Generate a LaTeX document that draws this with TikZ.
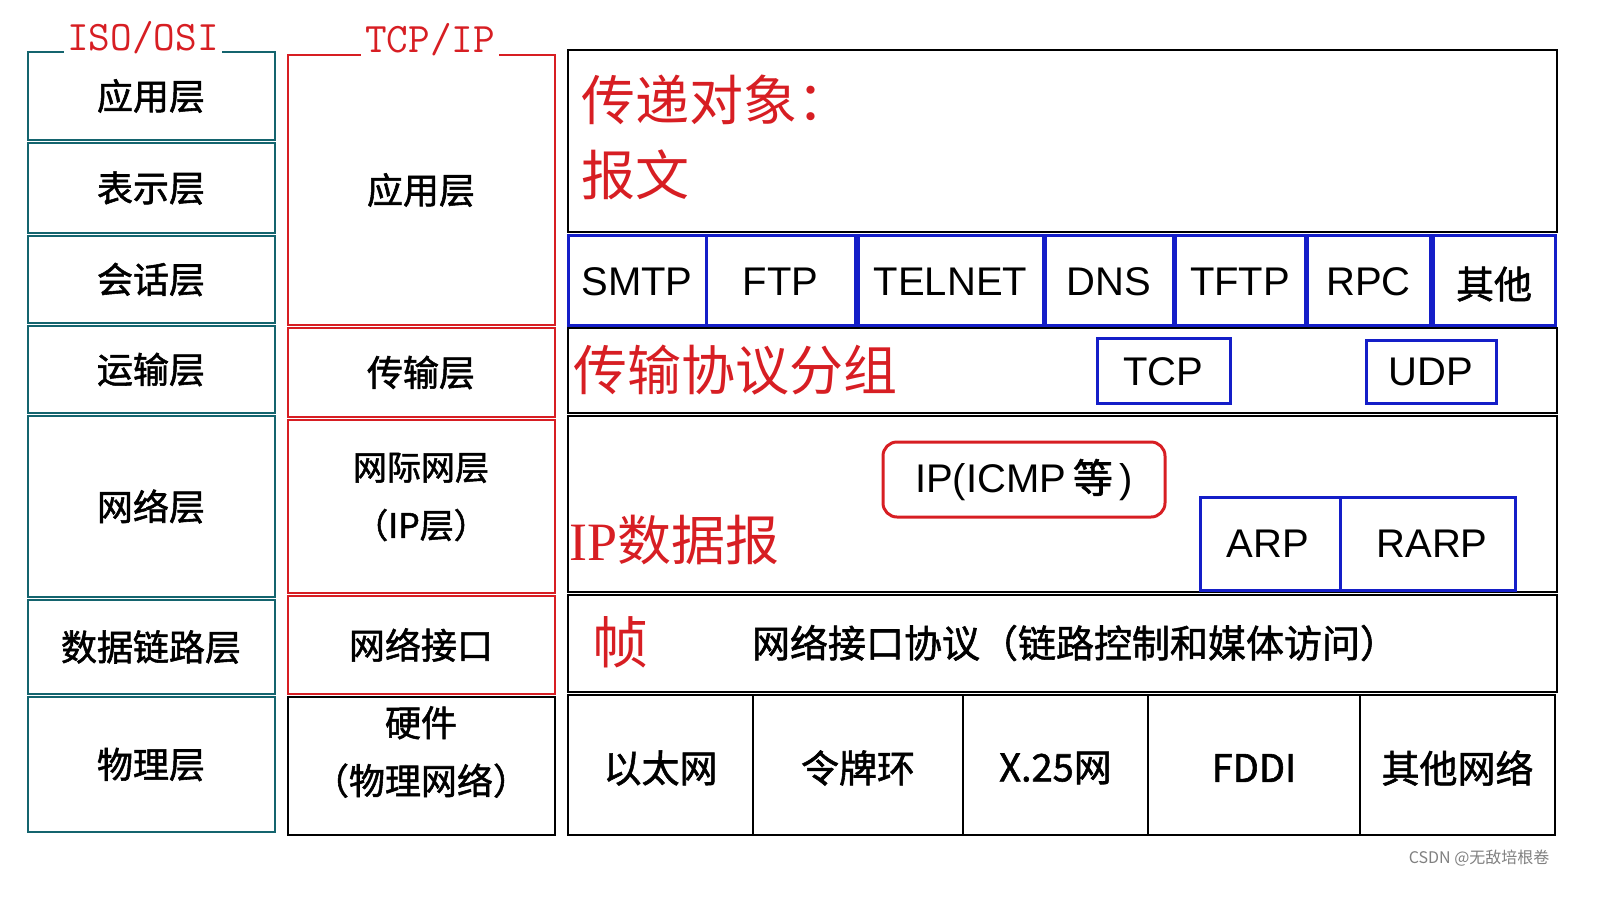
\documentclass[tikz,border=0pt]{standalone}
\usepackage{fontspec}
\setmainfont{Liberation Sans}
\newfontfamily\cjk[FakeBold=1.5]{Noto Sans CJK SC}
\newfontfamily\cjkr{Noto Sans CJK SC}
\newfontfamily\serifcjk{Liberation Serif}
\definecolor{teal1}{RGB}{20,100,110}
\definecolor{red1}{RGB}{215,30,35}
\definecolor{blue1}{RGB}{20,30,200}
\begin{document}
\begin{tikzpicture}[x=1pt,y=-1pt,
 osi/.style={draw=teal1,line width=2.5pt},
 tcp/.style={draw=red1,line width=2pt},
 blk/.style={draw=black,line width=2pt},
 pbox/.style={draw=blue1,line width=3pt},
 lab/.style={font=\cjk\fontsize{36}{38}\selectfont},
 plab/.style={font=\fontsize{40}{42}\selectfont},
 rlab/.style={text=red1,font=\cjkr\fontsize{54}{58}\selectfont,anchor=west},
 ttl/.style={text=red1,font=\fontsize{42}{44}\selectfont\ttfamily}]
% OSI column
\foreach \n/\a/\b/\t in {o1/52/140/应用层,o2/143/233/表示层,o3/236/323/会话层,o4/326/413/运输层,o5/416/597/网络层,o6/600/694/数据链路层,o7/697/832/物理层}{
  \draw[osi] (28,\a) rectangle (275,\b);
  \node[lab] (\n) at (151,{(\a+\b)/2}) {\t};
}
\node[ttl,fill=white,inner sep=3pt] (osit) at (143,38) {ISO/OSI};
% TCP/IP column
\foreach \n/\a/\b/\t in {t1/55/325/应用层,t2/328/417/传输层,t4/596/694/网络接口}{
  \draw[tcp] (288,\a) rectangle (555,\b);
  \node[lab] (\n) at (421,{(\a+\b)/2}) {\t};
}
\draw[tcp] (288,420) rectangle (555,593);
\node[align=center,font=\cjk\fontsize{34}{58}\selectfont] (t3) at (421,497) {网际网层\\（IP层）};
\draw[blk] (288,697) rectangle (555,835);
\node[align=center,font=\cjk\fontsize{36}{58}\selectfont] (t5) at (421,752) {硬件\\（物理网络）};
\node[ttl,fill=white,inner sep=4pt] (tcpt) at (430,40) {TCP/IP};
% right area
\draw[blk] (568,50) rectangle (1557,232);
\node[rlab] (obj) at (578,100) {传递对象：};
\node[rlab] (bw) at (578,175) {报文};
\foreach \n/\a/\b/\t in {p1/568/706/SMTP,p2/706/855/FTP,p3/858/1043/TELNET,p4/1045/1173/DNS,p5/1175/1305/TFTP,p6/1307/1430/RPC}{
  \draw[pbox] (\a,235) rectangle (\b,325);
  \node[plab] (\n) at ({(\a+\b)/2},282) {\t};
}
\draw[pbox] (1433,235) rectangle (1555,325);
\node[font=\cjk\fontsize{38}{40}\selectfont] (p7) at (1494,284) {其他};
\draw[blk] (568,328) rectangle (1557,413);
\node[rlab] (tp) at (570,370) {传输协议分组};
\draw[pbox] (1097,338) rectangle (1230,403);
\node[plab] (tcpn) at (1163,372) {TCP};
\draw[pbox] (1366,340) rectangle (1496,403);
\node[plab] (udpn) at (1431,372) {UDP};
\draw[blk] (568,416) rectangle (1557,592);
\draw[draw=red1,line width=3pt,rounded corners=14pt] (883,442) rectangle (1165,517);
\node[plab] (ipn) at (1024,480) {IP(ICMP\,{\cjk 等}\,)};
\draw[pbox] (1200,497) rectangle (1340,590);
\node[plab] (arp) at (1268,544) {ARP};
\draw[pbox] (1340,497) rectangle (1515,590);
\node[plab] (rarp) at (1432,544) {RARP};
\node[text=red1,anchor=west,font=\fontsize{54}{58}\selectfont\serifcjk] (ipd) at (566,540) {IP{\cjkr 数据报}};
\draw[blk] (568,595) rectangle (1557,692);
\node[text=red1,font=\cjkr\fontsize{56}{58}\selectfont] (zhen) at (620,642) {帧};
\node[font=\cjk\fontsize{38}{40}\selectfont] (nip) at (1075,643) {网络接口协议（链路控制和媒体访问）};
\foreach \n/\a/\b/\t in {b1/568/753/以太网,b2/753/963/令牌环,b3/963/1148/X.25网,b4/1148/1360/FDDI,b5/1360/1555/其他网络}{
  \draw[blk] (\a,695) rectangle (\b,835);
  \node[font=\cjk\fontsize{38}{40}\selectfont] (\n) at ({(\a+\b)/2},768) {\t};
}
\node[text=gray,font=\cjkr\fontsize{16}{18}\selectfont,anchor=east] (csdn) at (1553,858) {CSDN @无敌培根卷};
\pgfresetboundingbox
\useasboundingbox (0,0) rectangle (1617,903);
\end{tikzpicture}
\end{document}
